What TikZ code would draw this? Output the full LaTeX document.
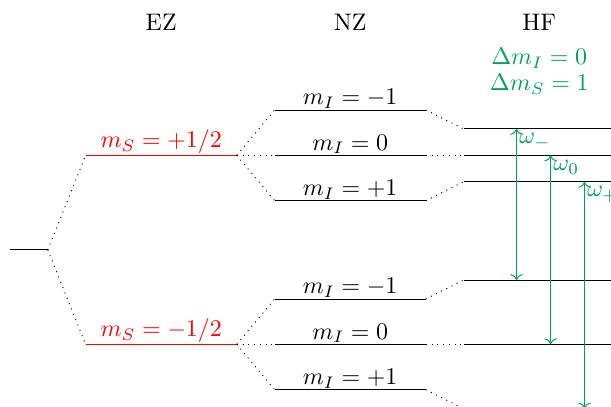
\documentclass[tikz,border=0pt]{standalone}
\usepackage{amsmath}
\usetikzlibrary{arrows.meta,calc}
\definecolor{colgreen}{HTML}{00A05A}

\begin{document}
\begin{tikzpicture}[
  x=0.555cm, y=0.555cm,
  lvl/.style={thin},
  ezlvl/.style={thin,red},
  link/.style={dotted,black},
  trans/.style={<->,thin,colgreen},
  tag/.style={midway,above,inner sep=0.5pt},
  head/.style={font=\normalsize},
]
  \useasboundingbox (-0.265,-4.15) rectangle (15.9,6.61);
  % ---------------- titles ----------------
  \node[head] (tEZ) at (4,6.03)  {EZ};
  \node[head] (tNZ) at (9,6.03)  {NZ};
  \node[head] (tHF) at (14,6.03) {HF};
  \node[colgreen,align=center] (rule) at (14,4.72) {$\Delta m_I = 0$\\[-1pt]$\Delta m_S = 1$};
  % ---------------- ground ----------------
  \draw[lvl] (0,0) coordinate (g0) -- (1,0) coordinate (g1);
  % ---------------- EZ ----------------
  \draw[ezlvl] (2,2.5) coordinate (ezUa) -- (6,2.5) coordinate (ezUb)
    node[tag] {$m_S = +1/2$};
  \draw[ezlvl] (2,-2.5) coordinate (ezDa) -- (6,-2.5) coordinate (ezDb)
    node[tag] {$m_S = -1/2$};
  \draw[link] (g1) -- (ezUa);
  \draw[link] (g1) -- (ezDa);
  % ---------------- NZ ----------------
  \draw[lvl] (7,3.7) coordinate (nzU1a) -- (11,3.7) coordinate (nzU1b)
    node[tag] {$m_I = -1$};
  \draw[lvl] (7,2.5) coordinate (nzU2a) -- (11,2.5) coordinate (nzU2b)
    node[tag] {$m_I = 0$};
  \draw[lvl] (7,1.3) coordinate (nzU3a) -- (11,1.3) coordinate (nzU3b)
    node[tag] {$m_I = +1$};
  \draw[lvl] (7,-1.3) coordinate (nzD1a) -- (11,-1.3) coordinate (nzD1b)
    node[tag] {$m_I = -1$};
  \draw[lvl] (7,-2.5) coordinate (nzD2a) -- (11,-2.5) coordinate (nzD2b)
    node[tag] {$m_I = 0$};
  \draw[lvl] (7,-3.7) coordinate (nzD3a) -- (11,-3.7) coordinate (nzD3b)
    node[tag] {$m_I = +1$};
  \foreach \k in {1,2,3} {
    \draw[link] (ezUb) -- (nzU\k a);
    \draw[link] (ezDb) -- (nzD\k a);
  }
  % ---------------- HF ----------------
  \draw[lvl] (12,3.2)  coordinate (hfU1a) -- (16.5,3.2)  coordinate (hfU1b);
  \draw[lvl] (12,2.5)  coordinate (hfU2a) -- (16.5,2.5)  coordinate (hfU2b);
  \draw[lvl] (12,1.8)  coordinate (hfU3a) -- (16.5,1.8)  coordinate (hfU3b);
  \draw[lvl] (12,-0.8) coordinate (hfD1a) -- (16.5,-0.8) coordinate (hfD1b);
  \draw[lvl] (12,-2.5) coordinate (hfD2a) -- (16.5,-2.5) coordinate (hfD2b);
  \draw[lvl] (12,-4.2) coordinate (hfD3a) -- (16.5,-4.2) coordinate (hfD3b);
  \foreach \k in {1,2,3} {
    \draw[link] (nzU\k b) -- (hfU\k a);
    \draw[link] (nzD\k b) -- (hfD\k a);
  }
  % ---------------- transitions ----------------
  \draw[trans] (13.4,3.2) coordinate (wmT) -- (13.4,-0.8) coordinate (wmB);
  \draw[trans] (14.3,2.5) coordinate (w0T) -- (14.3,-2.5) coordinate (w0B);
  \draw[trans] (15.2,1.8) coordinate (wpT) -- (15.2,-4.2) coordinate (wpB);
  \node[colgreen,anchor=north west,inner sep=1pt] (lm) at ($(wmT)+(0,-0.05)$) {$\omega_-$};
  \node[colgreen,anchor=north west,inner sep=1pt] (l0) at ($(w0T)+(0,-0.05)$) {$\omega_0$};
  \node[colgreen,anchor=north west,inner sep=1pt] (lp) at ($(wpT)+(0,-0.05)$) {$\omega_+$};
\end{tikzpicture}
\end{document}
